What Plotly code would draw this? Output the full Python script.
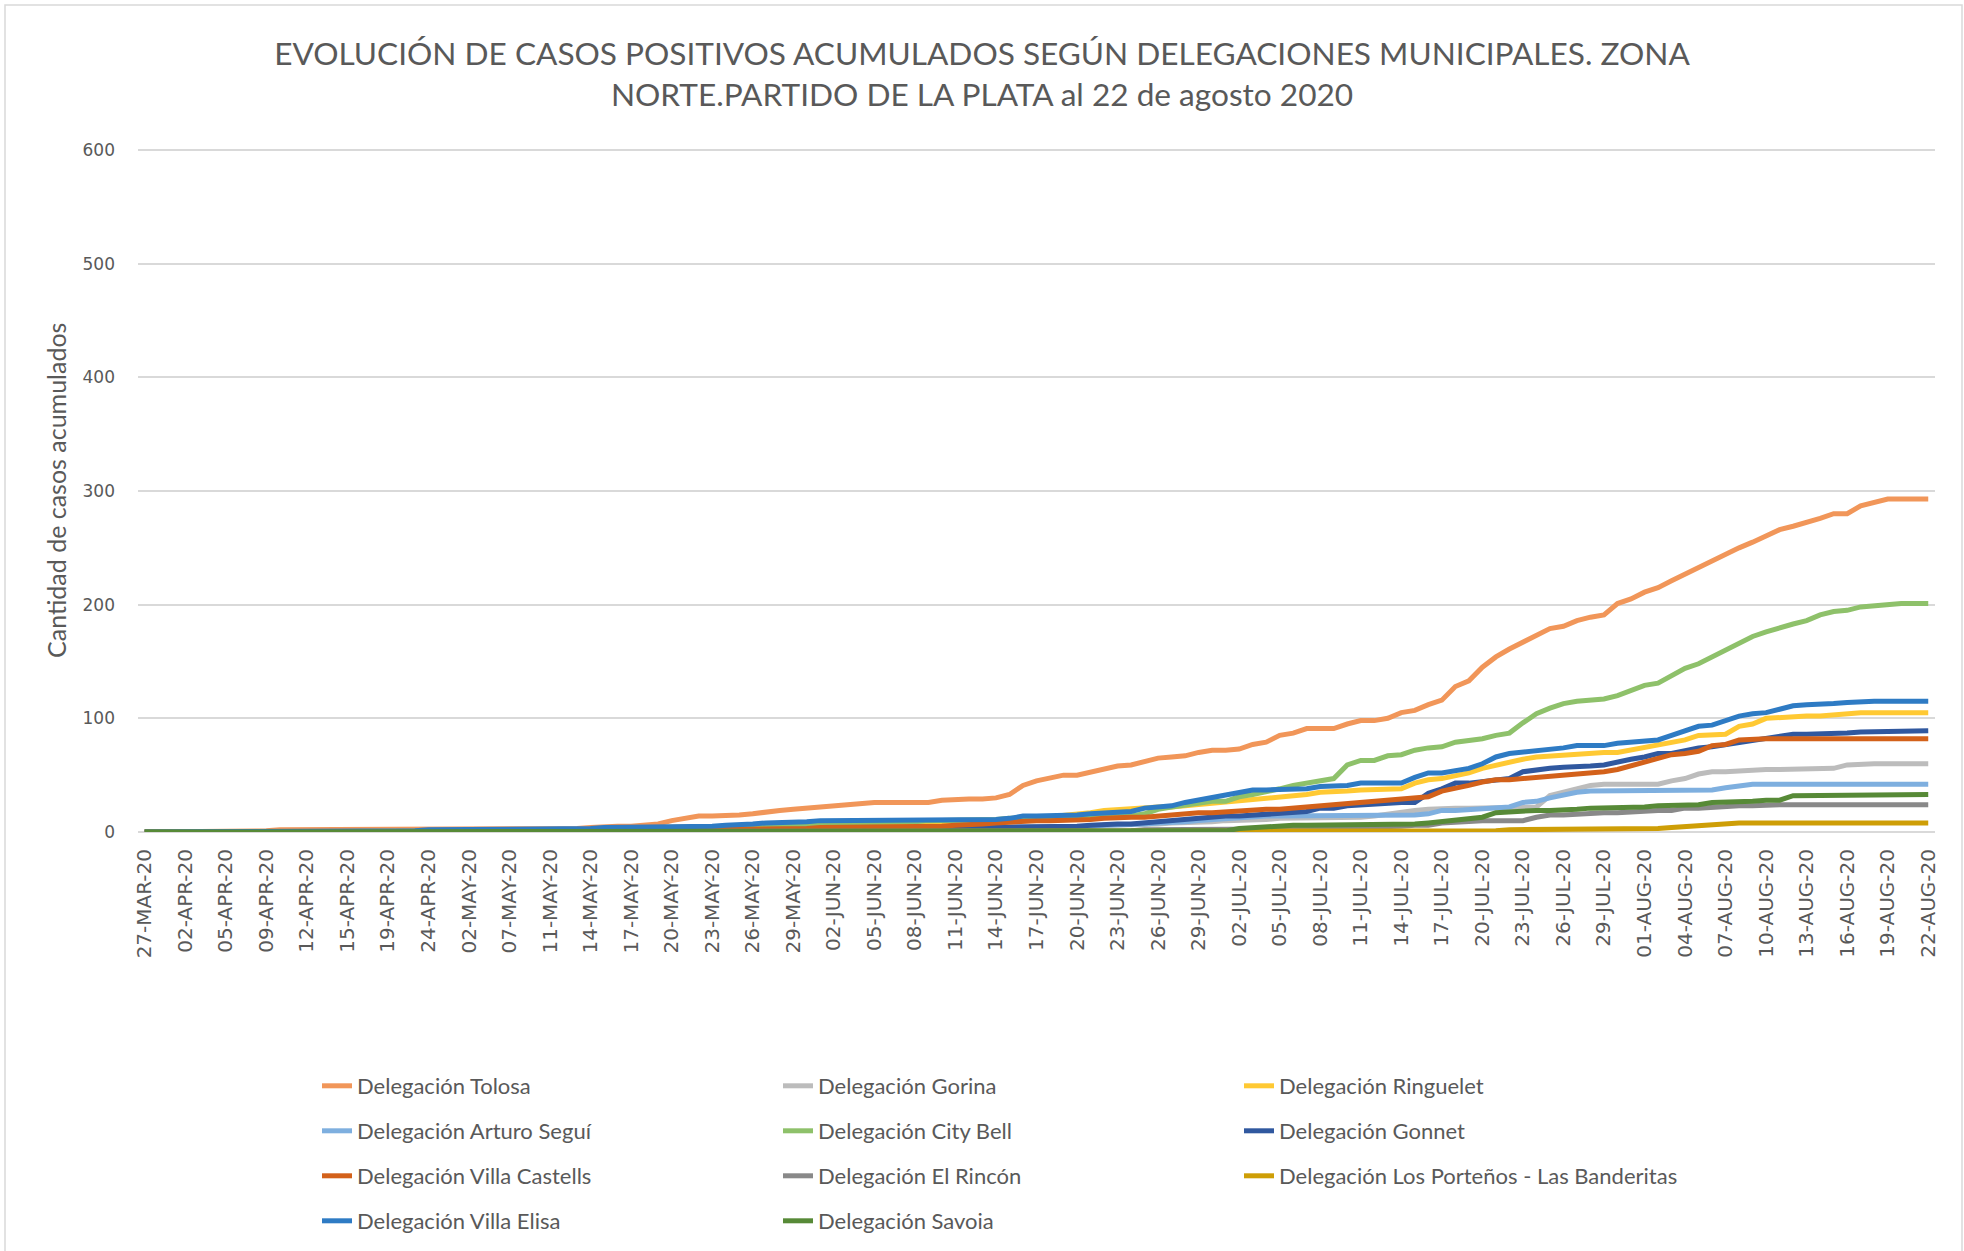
import plotly.graph_objects as go

# ---------------- DATA ----------------
fechas = [
    "27-MAR-20", "30-MAR-20", "31-MAR-20", "02-APR-20", "03-APR-20", "04-APR-20", "05-APR-20", "07-APR-20",
    "08-APR-20", "09-APR-20", "10-APR-20", "11-APR-20", "12-APR-20", "13-APR-20", "14-APR-20", "15-APR-20",
    "16-APR-20", "18-APR-20", "19-APR-20", "21-APR-20", "22-APR-20", "24-APR-20", "27-APR-20", "30-APR-20",
    "02-MAY-20", "04-MAY-20", "05-MAY-20", "07-MAY-20", "08-MAY-20", "09-MAY-20", "11-MAY-20", "12-MAY-20",
    "13-MAY-20", "14-MAY-20", "15-MAY-20", "16-MAY-20", "17-MAY-20", "18-MAY-20", "19-MAY-20", "20-MAY-20",
    "21-MAY-20", "22-MAY-20", "23-MAY-20", "24-MAY-20", "25-MAY-20", "26-MAY-20", "27-MAY-20", "28-MAY-20",
    "29-MAY-20", "30-MAY-20", "01-JUN-20",
    "02-JUN-20", "03-JUN-20", "04-JUN-20", "05-JUN-20", "06-JUN-20", "07-JUN-20", "08-JUN-20", "09-JUN-20",
    "10-JUN-20", "11-JUN-20", "12-JUN-20", "13-JUN-20", "14-JUN-20", "15-JUN-20", "16-JUN-20", "17-JUN-20",
    "18-JUN-20", "19-JUN-20", "20-JUN-20", "21-JUN-20", "22-JUN-20", "23-JUN-20", "24-JUN-20", "25-JUN-20",
    "26-JUN-20", "27-JUN-20", "28-JUN-20", "29-JUN-20", "30-JUN-20",
    "01-JUL-20", "02-JUL-20", "03-JUL-20", "04-JUL-20", "05-JUL-20", "06-JUL-20", "07-JUL-20", "08-JUL-20",
    "09-JUL-20", "10-JUL-20", "11-JUL-20", "12-JUL-20", "13-JUL-20", "14-JUL-20", "15-JUL-20", "16-JUL-20",
    "17-JUL-20", "18-JUL-20", "19-JUL-20", "20-JUL-20", "21-JUL-20", "22-JUL-20", "23-JUL-20", "24-JUL-20",
    "25-JUL-20", "26-JUL-20", "27-JUL-20", "28-JUL-20", "29-JUL-20", "30-JUL-20", "31-JUL-20",
    "01-AUG-20", "02-AUG-20", "03-AUG-20", "04-AUG-20", "05-AUG-20", "06-AUG-20", "07-AUG-20", "08-AUG-20",
    "09-AUG-20", "10-AUG-20", "11-AUG-20", "12-AUG-20", "13-AUG-20", "14-AUG-20", "15-AUG-20", "16-AUG-20",
    "17-AUG-20", "18-AUG-20", "19-AUG-20", "20-AUG-20", "21-AUG-20", "22-AUG-20",
]

etiquetas_eje_x = [
    "27-MAR-20", "02-APR-20", "05-APR-20", "09-APR-20", "12-APR-20", "15-APR-20", "19-APR-20", "24-APR-20",
    "02-MAY-20", "07-MAY-20", "11-MAY-20", "14-MAY-20", "17-MAY-20", "20-MAY-20", "23-MAY-20", "26-MAY-20",
    "29-MAY-20", "02-JUN-20", "05-JUN-20", "08-JUN-20", "11-JUN-20", "14-JUN-20", "17-JUN-20", "20-JUN-20",
    "23-JUN-20", "26-JUN-20", "29-JUN-20", "02-JUL-20", "05-JUL-20", "08-JUL-20", "11-JUL-20", "14-JUL-20",
    "17-JUL-20", "20-JUL-20", "23-JUL-20", "26-JUL-20", "29-JUL-20", "01-AUG-20", "04-AUG-20", "07-AUG-20",
    "10-AUG-20", "13-AUG-20", "16-AUG-20", "19-AUG-20", "22-AUG-20",
]

etiquetas_eje_y = [0, 100, 200, 300, 400, 500, 600]

tolosa = [
    0, 0, 1, 1, 1, 1, 1, 1, 1, 1,
    2, 2, 2, 2, 2, 2, 2, 2, 2, 2,
    2, 2, 2, 2, 2, 2, 2, 2, 3, 3,
    3, 3, 3, 4, 5, 5, 5, 6, 7, 10,
    12, 14, 14, 14, 15, 16, 18, 19, 20, 21,
    23, 24, 24, 25, 26, 26, 26, 26, 26, 28,
    29, 29, 29, 30, 33, 41, 45, 48, 50, 50,
    53, 56, 58, 59, 62, 65, 66, 67, 70, 72,
    72, 73, 77, 79, 85, 87, 91, 91, 91, 95,
    98, 98, 100, 105, 107, 112, 116, 128, 133, 145,
    154, 161, 167, 174, 179, 181, 186, 189, 191, 201,
    205, 211, 215, 221, 227, 232, 239, 244, 250, 255,
    261, 266, 269, 272, 276, 280, 280, 287, 290, 293,
    293, 293, 293,
]

gorina = [
    0, 0, 0, 0, 0, 0, 0, 0, 0, 0,
    0, 0, 0, 0, 0, 0, 0, 0, 0, 0,
    0, 0, 0, 0, 0, 0, 0, 0, 0, 0,
    1, 1, 1, 1, 1, 1, 1, 1, 1, 1,
    1, 1, 1, 1, 2, 2, 2, 2, 2, 2,
    2, 2, 2, 2, 2, 2, 3, 3, 3, 3,
    3, 3, 3, 4, 4, 4, 4, 5, 5, 5,
    5, 6, 6, 7, 7, 7, 8, 8, 8, 9,
    10, 10, 10, 11, 12, 12, 12, 13, 13, 13,
    13, 14, 16, 18, 19, 20, 21, 21, 21, 21,
    21, 21, 22, 22, 32, 35, 39, 41, 42, 42,
    42, 42, 42, 45, 47, 51, 53, 53, 54, 54,
    55, 55, 55, 55, 56, 56, 59, 60, 60, 60,
    60, 60, 60,
]

ringuelet = [
    0, 0, 0, 0, 0, 0, 0, 0, 0, 0,
    0, 0, 0, 0, 0, 0, 0, 0, 0, 0,
    1, 1, 1, 1, 1, 1, 1, 1, 1, 1,
    1, 1, 2, 2, 2, 3, 3, 3, 4, 4,
    5, 5, 5, 5, 5, 6, 6, 6, 6, 7,
    7, 7, 7, 7, 7, 7, 7, 8, 8, 8,
    8, 8, 8, 9, 10, 11, 12, 13, 14, 15,
    17, 19, 20, 20, 21, 22, 22, 23, 24, 25,
    26, 27, 28, 29, 31, 32, 33, 35, 35, 36,
    37, 37, 38, 38, 43, 46, 47, 49, 52, 56,
    59, 61, 64, 66, 67, 68, 69, 69, 70, 70,
    72, 75, 77, 79, 81, 85, 85, 86, 93, 95,
    100, 101, 101, 102, 102, 103, 105, 105, 105, 105,
    105, 105, 105,
]

arturo_segui = [
    0, 0, 0, 0, 0, 0, 0, 0, 0, 0,
    0, 0, 0, 0, 0, 0, 0, 0, 0, 0,
    0, 0, 0, 0, 0, 0, 0, 0, 0, 0,
    0, 0, 0, 0, 1, 1, 1, 1, 1, 1,
    1, 1, 1, 1, 1, 2, 2, 2, 2, 2,
    2, 2, 2, 2, 2, 2, 2, 3, 3, 3,
    3, 3, 3, 3, 4, 4, 4, 4, 5, 5,
    5, 6, 6, 7, 7, 8, 8, 9, 10, 11,
    12, 13, 14, 14, 14, 14, 14, 14, 14, 15,
    15, 15, 15, 15, 15, 16, 19, 19, 20, 20,
    21, 22, 26, 27, 30, 33, 35, 36, 36, 36,
    36, 36, 36, 36, 36, 37, 37, 39, 41, 42,
    42, 42, 42, 42, 42, 42, 42, 42, 42, 42,
    42, 42, 42,
]

city_bell = [
    0, 0, 0, 0, 0, 0, 0, 0, 0, 0,
    0, 0, 0, 0, 0, 0, 0, 0, 0, 0,
    0, 0, 0, 0, 0, 1, 1, 1, 1, 1,
    1, 1, 1, 1, 1, 1, 2, 2, 2, 3,
    3, 4, 4, 4, 4, 5, 5, 5, 6, 6,
    7, 7, 8, 8, 8, 9, 9, 9, 10, 10,
    10, 10, 11, 11, 12, 12, 12, 12, 12, 13,
    13, 13, 14, 14, 16, 20, 22, 24, 26, 27,
    27, 31, 33, 35, 38, 41, 43, 45, 47, 59,
    63, 63, 67, 68, 72, 74, 75, 79, 80, 82,
    85, 87, 96, 104, 109, 113, 115, 116, 117, 120,
    125, 129, 131, 138, 144, 148, 154, 160, 165, 172,
    176, 180, 183, 186, 191, 194, 195, 198, 199, 201,
    201, 201, 201,
]

gonnet = [
    0, 0, 0, 0, 0, 0, 0, 0, 0, 0,
    0, 0, 0, 0, 0, 0, 0, 0, 0, 0,
    0, 0, 0, 0, 0, 0, 0, 1, 1, 1,
    1, 1, 1, 1, 1, 1, 1, 1, 1, 1,
    1, 1, 1, 2, 2, 2, 2, 2, 2, 2,
    2, 2, 2, 2, 3, 3, 3, 3, 3, 3,
    3, 3, 4, 4, 4, 4, 4, 5, 5, 5,
    6, 7, 7, 7, 8, 9, 10, 12, 13, 13,
    14, 14, 15, 15, 16, 17, 18, 21, 21, 23,
    24, 25, 25, 26, 26, 34, 38, 43, 43, 44,
    46, 47, 53, 55, 56, 57, 57, 58, 59, 62,
    64, 66, 69, 69, 72, 74, 75, 77, 78, 81,
    83, 85, 86, 86, 86, 86, 87, 88, 88, 89,
    89, 89, 89,
]

villa_castells = [
    0, 0, 0, 0, 0, 0, 0, 0, 0, 0,
    0, 0, 0, 0, 0, 0, 0, 0, 0, 0,
    0, 0, 0, 0, 0, 0, 0, 0, 0, 1,
    1, 1, 1, 1, 1, 1, 1, 1, 2, 2,
    2, 2, 2, 2, 3, 3, 3, 3, 3, 3,
    4, 4, 4, 4, 4, 5, 5, 5, 5, 5,
    6, 6, 7, 8, 9, 9, 10, 10, 10, 11,
    11, 12, 13, 13, 13, 14, 15, 17, 17, 17,
    18, 19, 20, 20, 20, 21, 22, 23, 24, 25,
    26, 27, 28, 29, 29, 31, 36, 38, 41, 44,
    46, 46, 47, 48, 48, 49, 50, 52, 53, 55,
    58, 61, 65, 68, 69, 71, 76, 77, 81, 82,
    82, 82, 82, 82, 82, 82, 82, 82, 82, 82,
    82, 82, 82,
]

el_rincon = [
    0, 0, 0, 0, 0, 0, 0, 0, 0, 0,
    0, 0, 0, 0, 0, 0, 0, 0, 0, 0,
    0, 0, 0, 0, 0, 0, 0, 0, 0, 0,
    0, 0, 0, 0, 0, 0, 0, 0, 0, 0,
    0, 0, 0, 0, 0, 0, 0, 0, 0, 0,
    0, 0, 0, 0, 0, 1, 1, 1, 1, 1,
    1, 1, 1, 1, 1, 1, 1, 1, 1, 1,
    1, 1, 1, 1, 2, 2, 2, 2, 2, 2,
    2, 2, 2, 3, 3, 3, 3, 3, 3, 4,
    4, 4, 5, 5, 6, 6, 8, 9, 9, 10,
    10, 10, 10, 13, 15, 15, 16, 16, 17, 17,
    18, 18, 19, 19, 21, 21, 22, 22, 23, 23,
    24, 24, 24, 24, 24, 24, 24, 24, 24, 24,
    24, 24, 24,
]

los_portenos = [
    0, 0, 0, 0, 0, 0, 0, 0, 0, 0,
    0, 0, 0, 0, 0, 0, 0, 0, 0, 0,
    0, 0, 0, 0, 0, 0, 0, 0, 0, 0,
    0, 0, 0, 0, 0, 0, 0, 0, 0, 0,
    0, 0, 0, 0, 0, 0, 0, 0, 0, 0,
    0, 0, 0, 0, 0, 0, 0, 0, 0, 0,
    0, 0, 0, 0, 0, 0, 0, 0, 0, 0,
    0, 0, 0, 0, 0, 0, 0, 0, 0, 0,
    0, 1, 1, 1, 1, 1, 1, 1, 1, 1,
    1, 1, 1, 1, 1, 1, 1, 1, 1, 1,
    1, 2, 2, 2, 2, 2, 2, 2, 2, 2,
    2, 2, 3, 4, 5, 6, 7, 7, 8, 8,
    8, 8, 8, 8, 8, 8, 8, 8, 8, 8,
    8, 8, 8,
]

villa_elisa = [
    0, 0, 0, 1, 1, 1, 1, 1, 1, 1,
    1, 1, 1, 1, 1, 1, 1, 1, 1, 1,
    1, 2, 2, 2, 2, 2, 2, 2, 2, 2,
    3, 3, 3, 3, 4, 4, 4, 4, 4, 4,
    4, 4, 5, 6, 6, 7, 8, 8, 8, 9,
    10, 10, 10, 10, 10, 10, 10, 10, 10, 10,
    10, 10, 10, 11, 12, 14, 14, 14, 14, 15,
    16, 17, 17, 18, 21, 22, 23, 26, 28, 31,
    33, 35, 37, 37, 37, 37, 38, 40, 40, 41,
    43, 43, 43, 43, 48, 52, 52, 54, 56, 60,
    66, 69, 70, 72, 73, 74, 76, 76, 76, 78,
    79, 80, 81, 85, 89, 93, 94, 98, 102, 104,
    105, 108, 111, 112, 112, 113, 114, 115, 115, 115,
    115, 115, 115,
]

savoia = [
    0, 0, 0, 0, 0, 0, 0, 0, 0, 0,
    0, 0, 0, 0, 0, 0, 0, 0, 0, 0,
    0, 0, 0, 0, 0, 0, 0, 0, 0, 0,
    0, 0, 0, 0, 0, 0, 0, 0, 0, 0,
    0, 0, 0, 0, 0, 0, 0, 0, 0, 0,
    0, 0, 0, 0, 0, 0, 0, 0, 0, 0,
    0, 0, 0, 0, 0, 0, 0, 0, 0, 0,
    1, 1, 1, 1, 1, 1, 1, 1, 1, 1,
    1, 3, 4, 5, 6, 6, 6, 6, 6, 6,
    6, 6, 6, 6, 7, 8, 9, 10, 12, 13,
    17, 18, 19, 19, 19, 19, 20, 21, 21, 22,
    22, 22, 23, 23, 23, 24, 26, 26, 26, 27,
    28, 28, 32, 32, 32, 33, 33, 33, 33, 33,
    33, 33, 33,
]

nombres = [
    "Delegación Tolosa", "Delegación Gorina", "Delegación Ringuelet",
    "Delegación Arturo Seguí", "Delegación City Bell", "Delegación Gonnet",
    "Delegación Villa Castells", "Delegación El Rincón", "Delegación Los Porteños - Las Banderitas",
    "Delegación Villa Elisa", "Delegación Savoia",
]
series = [tolosa, gorina, ringuelet, arturo_segui, city_bell, gonnet,
          villa_castells, el_rincon, los_portenos, villa_elisa, savoia]

# ---------------- STYLE ----------------
colores = ["#F19659", "#BCBCBC", "#FFC933", "#7EAFDF", "#8EC16A", "#30589F",
           "#D3611A", "#898989", "#CE9E06", "#2E7BC4", "#578A37"]
leyendas = ["legend", "legend", "legend", "legend2", "legend2", "legend2",
            "legend3", "legend3", "legend3", "legend4", "legend4"]

GRIS_TXT = "#595959"
FUENTE = "Lato, 'Open Sans', sans-serif"

fig = go.Figure()
for nombre, vals, col, leg in zip(nombres, series, colores, leyendas):
    fig.add_trace(go.Scatter(
        x=fechas, y=vals, name=nombre, mode="lines",
        line=dict(color=col, width=5),
        legend=leg,
    ))

# plot-area pixel geometry (value 0 at y=832, value 600 at y=150)
L, R, T, B = 138, 29, 144, 419
W, H = 1964, 1251
pw = W - L - R
ph = H - T - B
escala = (832 - 150) / 600.0
y_max = ph / escala

def px_x(x):
    return (x - L) / pw

def px_y(y):
    return (H - B - y) / ph

leg_common = dict(
    orientation="h", xanchor="left", yanchor="middle",
    x=px_x(317), entrywidth=416, entrywidthmode="pixels",
    font=dict(family=FUENTE, size=22, color=GRIS_TXT),
    bgcolor="rgba(0,0,0,0)", itemwidth=30,
)

fig.update_layout(
    width=W, height=H,
    margin=dict(l=L, r=R, t=T, b=B, autoexpand=False),
    paper_bgcolor="white", plot_bgcolor="white",
    title=dict(
        text="EVOLUCIÓN DE CASOS POSITIVOS ACUMULADOS SEGÚN DELEGACIONES MUNICIPALES. ZONA<br>"
             "NORTE.PARTIDO DE LA PLATA al 22 de agosto 2020",
        x=0.5, xref="container", xanchor="center",
        y=1 - 64.5 / H, yref="container", yanchor="middle",
        font=dict(family=FUENTE, size=31.6, color=GRIS_TXT),
    ),
    legend=dict(leg_common, y=px_y(1086)),
    legend2=dict(leg_common, y=px_y(1131)),
    legend3=dict(leg_common, y=px_y(1176)),
    legend4=dict(leg_common, y=px_y(1221)),
    showlegend=True,
    xaxis=dict(
        type="category", categoryorder="array", categoryarray=fechas,
        range=[-0.5, len(fechas) - 0.5],
        tickmode="array", tickvals=etiquetas_eje_x, ticktext=etiquetas_eje_x,
        tickangle=-90, ticklabelstandoff=12,
        tickfont=dict(family="DejaVu Sans", size=20, color=GRIS_TXT),
        showgrid=False, showline=False, zeroline=False, ticks="",
        automargin=False,
    ),
    yaxis=dict(
        range=[0, y_max], tickmode="array", tickvals=etiquetas_eje_y,
        tickfont=dict(family="DejaVu Sans", size=17, color=GRIS_TXT),
        showgrid=True, gridcolor="#D9D9D9", gridwidth=1.5,
        zeroline=True, zerolinecolor="#D9D9D9", zerolinewidth=1.5,
        showline=False, ticks="", ticklabelstandoff=22,
        automargin=False,
    ),
    annotations=[dict(
        text="Cantidad de casos acumulados", textangle=-90,
        xref="paper", yref="paper", x=px_x(56), y=px_y(491),
        xanchor="center", yanchor="middle", showarrow=False,
        font=dict(family=FUENTE, size=25, color=GRIS_TXT),
    )],
    shapes=[dict(
        type="rect", xref="paper", yref="paper",
        x0=px_x(5), x1=px_x(1962), y0=px_y(1262), y1=px_y(5),
        line=dict(color="#D9D9D9", width=1.5), fillcolor="rgba(0,0,0,0)",
        layer="below",
    )],
)

fig.write_html(
    "out.html",
    config={"displayModeBar": False},
    post_script="document.body.style.margin='0';document.body.style.overflow='hidden';",
)
